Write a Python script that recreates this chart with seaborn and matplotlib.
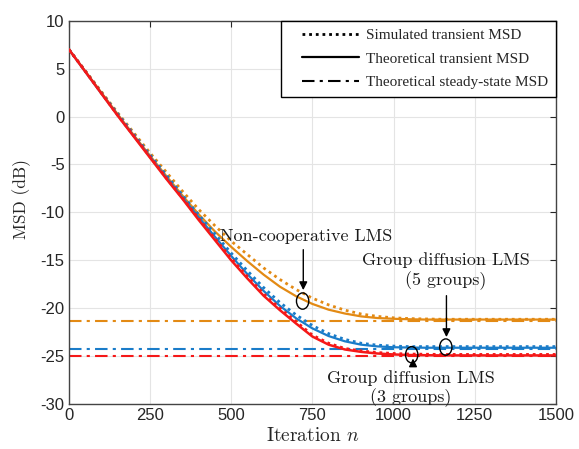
import numpy as np
import pandas as pd
import seaborn as sns
import matplotlib.pyplot as plt
from matplotlib.patches import Ellipse
from matplotlib.lines import Line2D
from matplotlib.legend_handler import HandlerLine2D

# iteration grid the curves were read at
iterations = list(range(0, 1501, 50))

# non-cooperative LMS
noncoop_sim = [7.0, 4.8, 2.6, 0.4, -1.7, -3.8, -5.8, -7.8, -9.7, -11.4, -13.0,
               -14.4, -15.8, -17.0, -18.05, -18.95, -19.65, -20.2, -20.6, -20.85,
               -21.0, -21.08, -21.12, -21.15, -21.15, -21.15, -21.15, -21.15,
               -21.15, -21.15, -21.15]
noncoop_theory = [7.0, 4.75, 2.5, 0.25, -1.95, -4.1, -6.2, -8.25, -10.2, -12.0,
                  -13.6, -15.1, -16.5, -17.75, -18.75, -19.55, -20.15, -20.55,
                  -20.85, -21.02, -21.1, -21.15, -21.18, -21.18, -21.18, -21.18,
                  -21.18, -21.18, -21.18, -21.18, -21.18]

# group diffusion LMS, 5 groups
g5_sim = [7.0, 4.75, 2.5, 0.3, -1.85, -4.0, -6.1, -8.2, -10.25, -12.25, -14.25,
          -16.1, -17.85, -19.4, -20.7, -21.8, -22.65, -23.25, -23.65, -23.85,
          -23.95, -24.0, -24.0, -24.0, -24.0, -24.0, -24.0, -24.0, -24.0, -24.0,
          -24.0]
g5_theory = [7.0, 4.7, 2.4, 0.15, -2.05, -4.2, -6.35, -8.45, -10.5, -12.55,
             -14.55, -16.45, -18.2, -19.75, -21.05, -22.1, -22.9, -23.45, -23.8,
             -23.98, -24.07, -24.1, -24.12, -24.12, -24.12, -24.12, -24.12,
             -24.12, -24.12, -24.12, -24.12]

# group diffusion LMS, 3 groups
g3_sim = [7.0, 4.75, 2.45, 0.15, -2.0, -4.2, -6.4, -8.5, -10.65, -12.75, -14.8,
          -16.7, -18.5, -20.0, -21.4, -22.8, -23.65, -24.2, -24.45, -24.62,
          -24.72, -24.78, -24.8, -24.82, -24.82, -24.82, -24.82, -24.82, -24.82,
          -24.82, -24.82]
g3_theory = [7.0, 4.7, 2.4, 0.1, -2.1, -4.3, -6.5, -8.6, -10.8, -12.9, -15.0,
             -16.9, -18.7, -20.2, -21.6, -22.95, -23.8, -24.3, -24.55, -24.72,
             -24.82, -24.88, -24.9, -24.92, -24.92, -24.92, -24.92, -24.92,
             -24.92, -24.92, -24.92]

steady_state = [-21.3, -24.2, -24.95]   # non-coop, 5 groups, 3 groups

orange = "#E38A14"
blue = "#1A7CC9"
red = "#F51818"
dotted = (0, (1, 1.4))
dashdot = (0, (6, 2.5, 1.5, 2.5))

sns.set_style("whitegrid")
plt.rcParams["font.family"] = ["Liberation Sans", "DejaVu Sans"]
plt.rcParams["mathtext.fontset"] = "cm"
plt.rcParams["axes.unicode_minus"] = False

fig = plt.figure(figsize=(5.79, 4.49), dpi=100)
ax = fig.add_axes([0.119, 0.100, 0.841, 0.854])

for val, col in zip(steady_state, [orange, blue, red]):
    ax.axhline(val, color=col, lw=1.5, linestyle=dashdot, zorder=2)

df = pd.DataFrame({"n": iterations})
sns.lineplot(x=df["n"], y=noncoop_sim, ax=ax, color=orange, lw=2, linestyle=dotted, zorder=3)
sns.lineplot(x=df["n"], y=noncoop_theory, ax=ax, color=orange, lw=1.6, zorder=3)
sns.lineplot(x=df["n"], y=g5_sim, ax=ax, color=blue, lw=2, linestyle=dotted, zorder=4)
sns.lineplot(x=df["n"], y=g5_theory, ax=ax, color=blue, lw=1.6, zorder=4)
sns.lineplot(x=df["n"], y=g3_sim, ax=ax, color=red, lw=2, linestyle=dotted, zorder=5)
sns.lineplot(x=df["n"], y=g3_theory, ax=ax, color=red, lw=1.8, zorder=5)

ax.set_xlim(0, 1500)
ax.set_ylim(-30, 10)
ax.set_xticks(range(0, 1501, 250))
ax.set_yticks(range(-30, 11, 5))
ax.tick_params(direction="in", length=4, labelsize=12, top=True, right=True,
               colors="#262626", pad=3)
ax.grid(True, color="#e4e4e4", lw=0.8)
for sp in ax.spines.values():
    sp.set_color("#444444")
    sp.set_linewidth(1.0)

ax.set_xlabel("Iteration $n$", family="cmr10", fontsize=14, labelpad=3)
ax.set_ylabel("MSD (dB)", family="cmr10", fontsize=12.5)
ax.yaxis.set_label_coords(-0.078, 0.535)

# annotations
txt = dict(family="cmr10", fontsize=13, ha="center", va="center", color="#1a1a1a")
arrow = dict(arrowstyle="-|>", color="black", lw=1.0, mutation_scale=12)

ax.text(730, -12.5, "Non-cooperative LMS", **txt)
ax.annotate("", xy=(722, -18.4), xytext=(722, -13.6), arrowprops=arrow)
ax.add_patch(Ellipse((720, -19.25), 38, 1.7, fill=False, ec="black", lw=1.0, zorder=6))

ax.text(1160, -16.1, "Group diffusion LMS\n(5 groups)", linespacing=1.25, **txt)
ax.annotate("", xy=(1163, -23.3), xytext=(1163, -18.4), arrowprops=arrow)
ax.add_patch(Ellipse((1161, -24.05), 38, 1.7, fill=False, ec="black", lw=1.0, zorder=6))

ax.text(1054, -28.4, "Group diffusion LMS\n(3 groups)", linespacing=1.15, **txt)
ax.annotate("", xy=(1060, -24.95), xytext=(1060, -26.3), arrowprops=arrow)
ax.add_patch(Ellipse((1056, -24.85), 38, 1.7, fill=False, ec="black", lw=1.0, zorder=6))

handles = [
    Line2D([], [], color="black", lw=2, linestyle=dotted),
    Line2D([], [], color="black", lw=1.6),
    Line2D([], [], color="black", lw=1.5, linestyle=dashdot),
]
labels = ["Simulated transient MSD", "Theoretical transient MSD",
          "Theoretical steady-state MSD"]
leg = ax.legend(handles, labels, loc="upper right", borderaxespad=0,
                prop={"family": "Liberation Serif", "size": 11}, handlelength=4.6,
                handler_map={Line2D: HandlerLine2D(xpad=0.85)},
                handletextpad=0.45, labelspacing=0.65, borderpad=0.5,
                fancybox=False, framealpha=1, edgecolor="black")
leg.get_frame().set_linewidth(1.0)
leg.set_zorder(10)

fig.savefig("out.png", dpi=100)
